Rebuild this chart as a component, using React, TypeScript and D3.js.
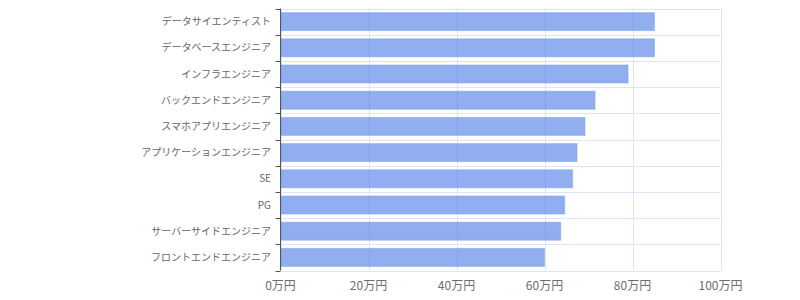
import React from "react";
import * as d3 from "d3";

const categories = [
  "データサイエンティスト",
  "データベースエンジニア",
  "インフラエンジニア",
  "バックエンドエンジニア",
  "スマホアプリエンジニア",
  "アプリケーションエンジニア",
  "SE",
  "PG",
  "サーバーサイドエンジニア",
  "フロントエンドエンジニア",
];
const values = [85, 85, 79, 71.5, 69.2, 67.4, 66.4, 64.6, 63.7, 60];
const xTicks = [0, 20, 40, 60, 80, 100];
const unit = "万円";

const W = 800;
const H = 300;
const m = { left: 280.5, right: 79.5, top: 8.5, bottom: 29.5 };
const FONT = "'Noto Sans CJK JP', 'Noto Sans', sans-serif";

export default function App() {
  const x = d3.scaleLinear().domain([0, 100]).range([m.left, W - m.right]);
  const y = d3
    .scaleBand<string>()
    .domain(categories)
    .range([m.top, H - m.bottom])
    .paddingInner(0.31)
    .paddingOuter(0.155);
  const boundaries = d3.range(categories.length + 1).map((i) => m.top + i * (H - m.top - m.bottom) / categories.length);

  return (
    <svg width={W} height={H} style={{ position: "absolute", left: 0, top: 0, fontFamily: FONT }}>
      {/* grid */}
      <g stroke="#dfe4f2" strokeWidth={1}>
        {xTicks.map((t) => (
          <line key={"v" + t} x1={Math.round(x(t)) + 0.5} x2={Math.round(x(t)) + 0.5} y1={m.top} y2={H - m.bottom} />
        ))}
        {boundaries.map((b, i) => (
          <line key={"h" + i} x1={m.left} x2={W - m.right} y1={Math.round(b) + 0.5} y2={Math.round(b) + 0.5} />
        ))}
      </g>
      {/* bars */}
      <g>
        {categories.map((c, i) => (
          <rect
            key={c}
            x={x(0)}
            y={y(c)!}
            width={x(values[i]) - x(0)}
            height={y.bandwidth()}
            fill="rgba(70,120,230,0.6)"
            stroke="rgba(120,160,240,0.45)"
            strokeWidth={1}
          />
        ))}
      </g>
      {/* left axis */}
      <g stroke="#555" strokeWidth={1}>
        <line x1={m.left} x2={m.left} y1={m.top} y2={H - m.bottom} />
        {boundaries.map((b, i) => (
          <line key={"t" + i} x1={m.left - 5} x2={m.left} y1={Math.round(b) + 0.5} y2={Math.round(b) + 0.5} />
        ))}
      </g>
      {/* y labels */}
      <g fontSize={10} fill="#666" textAnchor="end">
        {categories.map((c) => (
          <text key={c} x={m.left - 9.5} y={y(c)! + y.bandwidth() / 2} dy="0.35em">
            {c}
          </text>
        ))}
      </g>
      {/* x labels */}
      <g fontSize={12} fill="#6e6e6e" textAnchor="middle">
        {xTicks.map((t) => (
          <text key={t} x={x(t)} y={H - m.bottom + 19}>
            {t + unit}
          </text>
        ))}
      </g>
    </svg>
  );
}
